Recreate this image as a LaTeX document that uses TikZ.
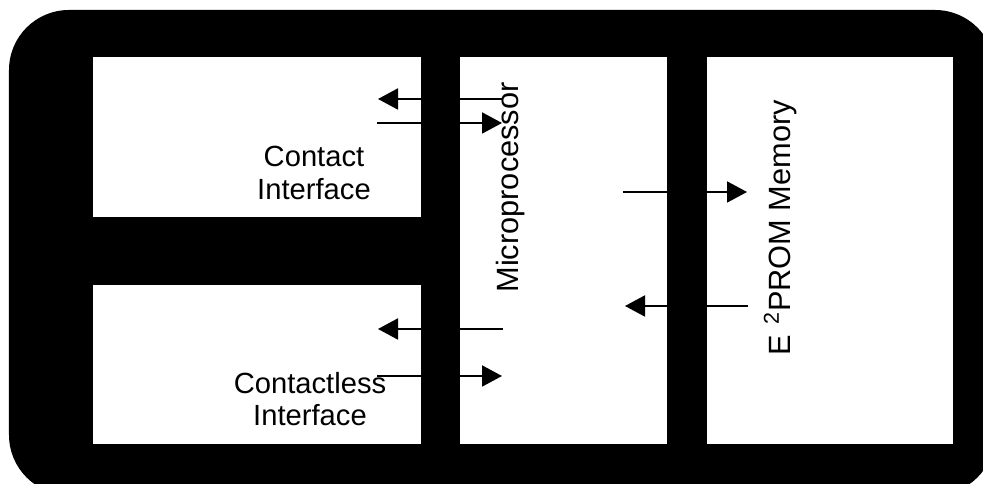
\documentclass[tikz,border=0pt]{standalone}
\usepackage{fontspec}
\setmainfont{Liberation Sans}
\usetikzlibrary{arrows.meta,positioning}

\tikzset{
  block/.style={fill=white,inner sep=0pt,minimum width=#1},
  lbl/.style={font=\fontsize{16.6pt}{18.6pt}\selectfont,align=center,inner sep=0pt},
  vlbl/.style={font=\fontsize{17.5pt}{18pt}\selectfont,inner sep=0pt,rotate=90,anchor=base},
  flow/.style={line width=1.1pt,-{Triangle[length=0.4cm,width=0.42cm]}}
}

\begin{document}
\begin{tikzpicture}[x=1cm,y=1cm,>=Latex]
  \useasboundingbox (0,0) rectangle (19.66,9.68);
  \fill[black,rounded corners=1.2cm] (0.18,-0.22) rectangle (19.9,9.48);

  \node[block=6.56cm,minimum height=3.2cm] (contact) at (5.14,6.94) {};
  \node[block=6.56cm,minimum height=3.18cm] (contactless) at (5.14,2.39) {};
  \node[block=4.14cm,minimum height=7.74cm] (cpu) at (11.27,4.67) {};
  \node[block=4.92cm,minimum height=7.74cm] (eeprom) at (16.6,4.67) {};

  \node[lbl] (contact label) at (6.28,6.22) {Contact\\Interface};
  \node[lbl] (contactless label) at (6.2,1.70) {Contactless\\Interface};
  \node[vlbl] (cpu label) at (10.36,5.93) {Microprocessor};
  \node[vlbl] (eeprom label) at (15.8,5.13)
    {E\hspace{0.32em}\textsuperscript{2}PROM Memory};

  \coordinate (ci out) at (7.54,7.22);
  \coordinate (ci in)  at (7.56,7.70);
  \coordinate (cpu top in)  at (10.04,7.22);
  \coordinate (cpu top out) at (10.06,7.70);
  \coordinate (cl out) at (7.54,2.16);
  \coordinate (cl in)  at (7.56,3.10);
  \coordinate (cpu low in)  at (10.04,2.16);
  \coordinate (cpu low out) at (10.06,3.10);
  \coordinate (cpu wr) at (12.46,5.84);
  \coordinate (mem in) at (14.94,5.84);
  \coordinate (mem rd) at (14.96,3.56);
  \coordinate (cpu rd) at (12.50,3.56);

  \draw[flow] (cpu top out) -- (ci in);
  \draw[flow] (ci out) -- (cpu top in);
  \draw[flow] (cpu low out) -- (cl in);
  \draw[flow] (cl out) -- (cpu low in);
  \draw[flow] (cpu wr) -- (mem in);
  \draw[flow] (mem rd) -- (cpu rd);
\end{tikzpicture}
\end{document}
